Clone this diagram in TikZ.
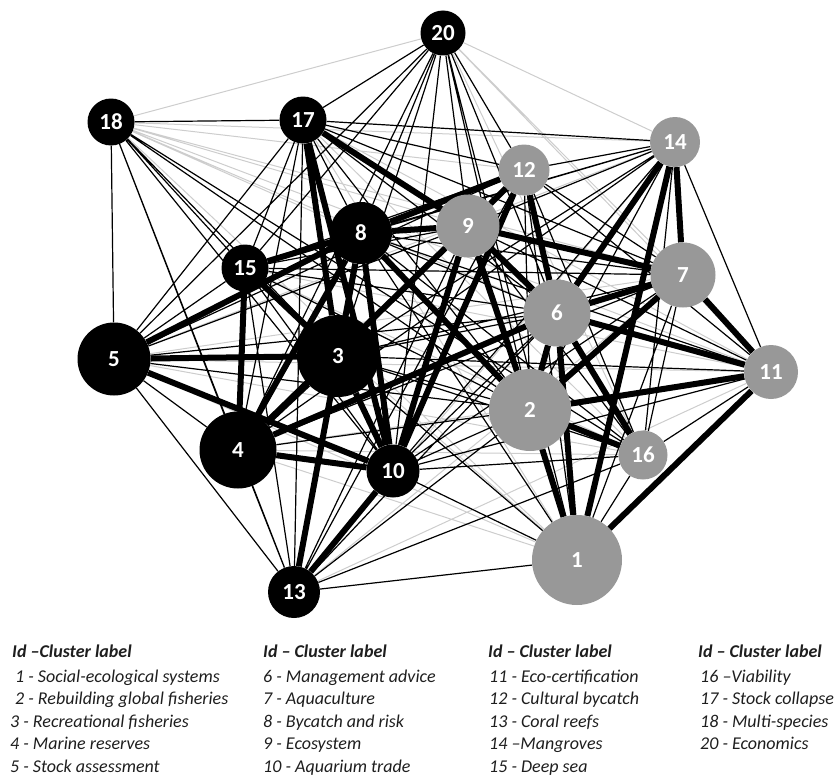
\documentclass[tikz,border=0pt]{standalone}
\usepackage{fontspec}
\setmainfont{Carlito}
\usetikzlibrary{backgrounds}
\definecolor{clustergray}{RGB}{152,152,152}
\definecolor{faintgray}{RGB}{205,205,205}
\definecolor{keytext}{RGB}{30,30,30}
\begin{document}
\begin{tikzpicture}[x=1pt,y=-1pt,
    blk/.style={circle,fill=black,text=white,inner sep=0pt,
      font=\bfseries\fontsize{23}{23}\selectfont},
    gry/.style={blk,fill=clustergray},
    strong/.style={line width=6pt},
    weak/.style={line width=1.2pt},
    faint/.style={line width=1pt,faintgray},
    keyhead/.style={anchor=base west,inner sep=0pt,text=keytext,font=\bfseries\itshape\fontsize{18}{18}\selectfont},
    keyline/.style={anchor=base west,inner sep=0pt,text=keytext,font=\itshape\fontsize{18}{18}\selectfont}]
  \useasboundingbox (0,0) rectangle (835,776);

  % clusters
  \node[gry,minimum size=90pt] (c1) at (577,560) {1};
  \node[gry,minimum size=82pt] (c2) at (530,410) {2};
  \node[blk,minimum size=82pt] (c3) at (338,356) {3};
  \node[blk,minimum size=77pt] (c4) at (238,450) {4};
  \node[blk,minimum size=73pt] (c5) at (114,359) {5};
  \node[gry,minimum size=67pt] (c6) at (557,313) {6};
  \node[gry,minimum size=65pt] (c7) at (683,275) {7};
  \node[blk,minimum size=62pt] (c8) at (361,233) {8};
  \node[gry,minimum size=63pt] (c9) at (468,226) {9};
  \node[blk,minimum size=53pt] (c10) at (393,471) {10};
  \node[gry,minimum size=54pt] (c11) at (771,372) {11};
  \node[gry,minimum size=51pt] (c12) at (524,170) {12};
  \node[blk,minimum size=52pt] (c13) at (294,592) {13};
  \node[gry,minimum size=50pt] (c14) at (675,142) {14};
  \node[blk,minimum size=47pt] (c15) at (245,268) {15};
  \node[gry,minimum size=49pt] (c16) at (643,455) {16};
  \node[blk,minimum size=47pt] (c17) at (303,120) {17};
  \node[blk,minimum size=47pt] (c18) at (111,122) {18};
  \node[blk,minimum size=45pt] (c20) at (443,33) {20};

  \begin{scope}[on background layer]
    \draw[faint] (c18) -- (c20) (c18) -- (c14) (c18) -- (c12) (c18) -- (c9)
      (c18) -- (c8) (c18) -- (c6) (c18) -- (c7) (c18) -- (c11) (c18) -- (c1)
      (c20) -- (c14) (c20) -- (c7) (c20) -- (c11) (c20) -- (c16)
      (c1) -- (c5) (c1) -- (c15) (c1) -- (c17) (c1) -- (c4)
      (c13) -- (c11) (c13) -- (c14) (c13) -- (c7)
      (c5) -- (c11) (c5) -- (c16) (c5) -- (c14) (c5) -- (c7)
      (c17) -- (c11) (c17) -- (c16) (c15) -- (c11) (c15) -- (c16)
      (c4) -- (c11) (c4) -- (c16);

    \draw[weak] (c1) -- (c3) (c1) -- (c7) (c1) -- (c8) (c1) -- (c9) (c1) -- (c10)
      (c1) -- (c12) (c1) -- (c13) (c1) -- (c16) (c1) -- (c20)
      (c2) -- (c3) (c2) -- (c4) (c2) -- (c5) (c2) -- (c10) (c2) -- (c12)
      (c2) -- (c13) (c2) -- (c14) (c2) -- (c15) (c2) -- (c17) (c2) -- (c18) (c2) -- (c20)
      (c3) -- (c6) (c3) -- (c7) (c3) -- (c9) (c3) -- (c11) (c3) -- (c12)
      (c3) -- (c13) (c3) -- (c14) (c3) -- (c16) (c3) -- (c18) (c3) -- (c20)
      (c4) -- (c5) (c4) -- (c7) (c4) -- (c12) (c4) -- (c13) (c4) -- (c14)
      (c4) -- (c17) (c4) -- (c18) (c4) -- (c20)
      (c5) -- (c6) (c5) -- (c9) (c5) -- (c12) (c5) -- (c13) (c5) -- (c15)
      (c5) -- (c17) (c5) -- (c18) (c5) -- (c20)
      (c6) -- (c8) (c6) -- (c10) (c6) -- (c13) (c6) -- (c15) (c6) -- (c17) (c6) -- (c20)
      (c7) -- (c8) (c7) -- (c10) (c7) -- (c12) (c7) -- (c15) (c7) -- (c16) (c7) -- (c17)
      (c8) -- (c11) (c8) -- (c14) (c8) -- (c16) (c8) -- (c17) (c8) -- (c20)
      (c9) -- (c11) (c9) -- (c13) (c9) -- (c14) (c9) -- (c15) (c9) -- (c16) (c9) -- (c20)
      (c10) -- (c11) (c10) -- (c14) (c10) -- (c15) (c10) -- (c16) (c10) -- (c18) (c10) -- (c20)
      (c11) -- (c12) (c11) -- (c14) (c11) -- (c16)
      (c12) -- (c13) (c12) -- (c14) (c12) -- (c15) (c12) -- (c16) (c12) -- (c17) (c12) -- (c20)
      (c13) -- (c15) (c13) -- (c16) (c13) -- (c17) (c13) -- (c18)
      (c14) -- (c15) (c14) -- (c16) (c14) -- (c17)
      (c15) -- (c17) (c15) -- (c18) (c15) -- (c20)
      (c16) -- (c18) (c17) -- (c18) (c17) -- (c20);

    \draw[strong] (c1) -- (c2) (c1) -- (c6) (c1) -- (c14) (c1) -- (c11)
      (c2) -- (c6) (c2) -- (c11) (c2) -- (c16) (c2) -- (c9) (c2) -- (c8) (c2) -- (c7)
      (c6) -- (c7) (c6) -- (c11) (c6) -- (c14) (c6) -- (c12) (c6) -- (c9)
      (c6) -- (c16) (c6) -- (c4)
      (c7) -- (c14) (c7) -- (c11) (c7) -- (c9)
      (c9) -- (c8) (c9) -- (c12) (c9) -- (c17) (c9) -- (c10) (c9) -- (c4)
      (c12) -- (c8) (c12) -- (c10)
      (c8) -- (c15) (c8) -- (c3) (c8) -- (c10) (c8) -- (c4) (c8) -- (c13) (c8) -- (c5)
      (c17) -- (c3) (c17) -- (c10)
      (c15) -- (c4) (c15) -- (c3)
      (c5) -- (c3) (c5) -- (c10)
      (c4) -- (c3) (c4) -- (c10) (c3) -- (c10) (c10) -- (c13);
  \end{scope}

  % key
  \node[keyhead] (headA) at (12,657) {Id –Cluster label};
  \node[keyline] (k1) at (15,682) {1 - Social-ecological systems};
  \node[keyline] (k2) at (15,704) {2 - Rebuilding global fisheries};
  \node[keyline] (k3) at (10,727) {3 - Recreational fisheries};
  \node[keyline] (k4) at (10,749) {4 - Marine reserves};
  \node[keyline] (k5) at (10,772) {5 - Stock assessment};

  \node[keyhead] (headB) at (263,657) {Id – Cluster label};
  \node[keyline] (k6) at (263,682) {6 - Management advice};
  \node[keyline] (k7) at (263,704) {7 - Aquaculture};
  \node[keyline] (k8) at (263,727) {8 - Bycatch and risk};
  \node[keyline] (k9) at (263,749) {9 - Ecosystem};
  \node[keyline] (k10) at (263,772) {10 - Aquarium trade};

  \node[keyhead] (headC) at (488,657) {Id – Cluster label};
  \node[keyline] (k11) at (489,682) {11 - Eco-certification};
  \node[keyline] (k12) at (489,704) {12 - Cultural bycatch};
  \node[keyline] (k13) at (489,727) {13 - Coral reefs};
  \node[keyline] (k14) at (489,749) {14 –Mangroves};
  \node[keyline] (k15) at (489,772) {15 - Deep sea};

  \node[keyhead] (headD) at (698,657) {Id – Cluster label};
  \node[keyline] (k16) at (700,682) {16 –Viability};
  \node[keyline] (k17) at (700,704) {17 - Stock collapse};
  \node[keyline] (k18) at (700,727) {18 - Multi-species};
  \node[keyline] (k20) at (700,749) {20 - Economics};
\end{tikzpicture}
\end{document}
